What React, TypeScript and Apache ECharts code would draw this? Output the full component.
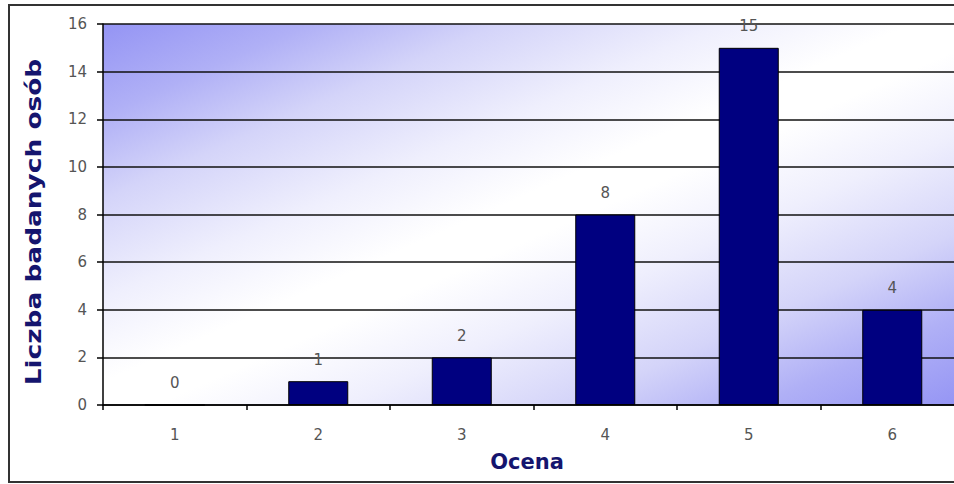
import React, { useEffect, useRef } from "react";
import * as echarts from "echarts";

const categories = ["1", "2", "3", "4", "5", "6"];
const values = [0, 1, 2, 8, 15, 4];
const yTitle = "Liczba badanych osób";
const xTitle = "Ocena";

export default function App() {
  const ref = useRef<HTMLDivElement>(null);
  useEffect(() => {
    if (!ref.current) return;
    const chart = echarts.init(ref.current, null, { renderer: "svg" });
    chart.setOption({
      animation: false,
      backgroundColor: "#ffffff",
      grid: {
        left: 103,
        top: 24,
        bottom: 79,
        width: 861,
        show: true,
        borderWidth: 0,
        backgroundColor: new echarts.graphic.LinearGradient(0, 0, 1, 1, [
          { offset: 0, color: "#9494f4" },
          { offset: 0.12, color: "#b0b0f6" },
          { offset: 0.23, color: "#d4d4f9" },
          { offset: 0.36, color: "#efeffd" },
          { offset: 0.47, color: "#ffffff" },
          { offset: 0.53, color: "#ffffff" },
          { offset: 0.64, color: "#efeffd" },
          { offset: 0.77, color: "#d4d4f9" },
          { offset: 0.88, color: "#b0b0f6" },
          { offset: 1, color: "#9494f4" },
        ]),
      },
      xAxis: {
        type: "category",
        data: categories,
        boundaryGap: true,
        axisLine: { show: true, lineStyle: { color: "#000", width: 1.5 } },
        axisTick: { show: true, length: 5, inside: false, lineStyle: { color: "#000", width: 1.5 } },
        axisLabel: { color: "#555", fontSize: 15, fontFamily: "DejaVu Sans", margin: 22 },
        splitLine: { show: false },
      },
      yAxis: {
        type: "value",
        min: 0,
        max: 16,
        interval: 2,
        axisLine: { show: true, lineStyle: { color: "#000", width: 1.5 } },
        axisTick: { show: true, length: 6, inside: false, lineStyle: { color: "#000", width: 1.5 } },
        axisLabel: { color: "#555", fontSize: 15, fontFamily: "DejaVu Sans", margin: 16 },
        splitLine: { show: true, lineStyle: { color: "#111", width: 1.6 } },
      },
      series: [
        {
          type: "bar",
          data: values,
          barWidth: 60,
          itemStyle: { color: "#000080", borderColor: "#000", borderWidth: 1 },
          label: {
            show: true,
            position: "top",
            distance: 14,
            color: "#555",
            fontSize: 15,
            fontFamily: "DejaVu Sans",
          },
        },
      ],
      graphic: [
        {
          type: "rect",
          shape: { x: 9, y: 5, width: 975, height: 477 },
          style: { fill: "none", stroke: "#333", lineWidth: 2 },
          silent: true,
        },
        {
          type: "text",
          x: 33,
          y: 222,
          rotation: Math.PI / 2,
          scaleX: 1.2,
          style: {
            text: yTitle,
            fill: "#15156e",
            font: "bold 22px 'DejaVu Sans'",
            align: "center",
            verticalAlign: "middle",
          },
        },
        {
          type: "text",
          x: 527,
          y: 462,
          style: {
            text: xTitle,
            fill: "#15156e",
            font: "bold 21px 'DejaVu Sans'",
            align: "center",
            verticalAlign: "middle",
          },
        },
      ],
    });
    return () => chart.dispose();
  }, []);
  return (
    <div
      ref={ref}
      style={{ position: "fixed", left: 0, top: 0, width: 990, height: 484 }}
    />
  );
}
